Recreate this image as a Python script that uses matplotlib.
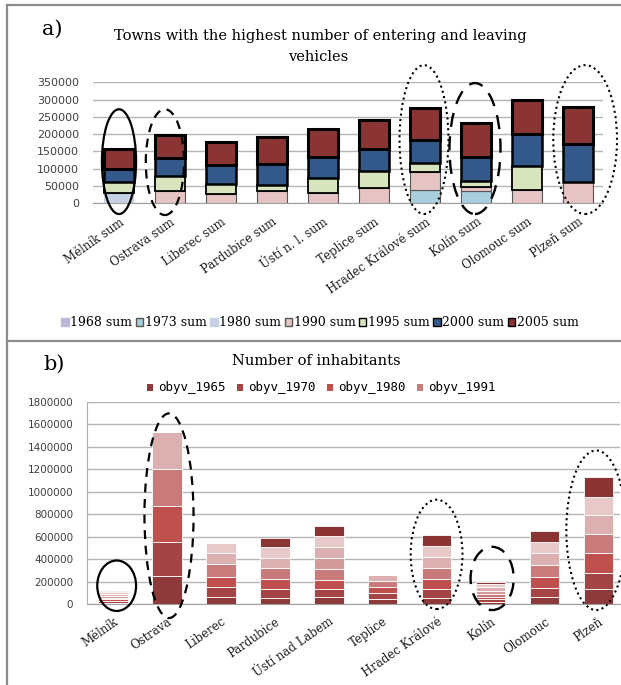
import matplotlib
matplotlib.use("Agg")
import matplotlib.pyplot as plt
from matplotlib.patches import Ellipse, Patch
from matplotlib.lines import Line2D
import numpy as np

# ---------------- data : panel a ----------------
towns_a = ["Mělník sum", "Ostrava sum", "Liberec sum", "Pardubice sum", "Ústí n. l. sum",
           "Teplice sum", "Hradec Králové sum", "Kolín sum", "Olomouc sum", "Plzeň sum"]
series_a = ["1968 sum", "1973 sum", "1980 sum", "1990 sum", "1995 sum", "2000 sum", "2005 sum"]
sum1968 = [0, 0, 0, 0, 0, 0, 0, 0, 0, 0]
sum1973 = [0, 0, 0, 0, 0, 0, 38000, 34000, 0, 0]
sum1980 = [29000, 0, 0, 0, 0, 0, 0, 0, 0, 0]
sum1990 = [0, 34000, 27000, 35000, 29000, 43000, 52000, 12500, 39000, 60000]
sum1995 = [31000, 45000, 28000, 17000, 45000, 49000, 27000, 17000, 67000, 0]
sum2000 = [38000, 52000, 54000, 62000, 60000, 66000, 66000, 70500, 94000, 112000]
sum2005 = [60000, 65000, 68000, 77000, 82000, 83000, 93000, 97000, 98000, 107000]
yticks_a = [0, 50000, 100000, 150000, 200000, 250000, 300000, 350000]

# ---------------- data : panel b ----------------
towns_b = ["Mělník", "Ostrava", "Liberec", "Pardubice", "Ústí nad Labem",
           "Teplice", "Hradec Králové", "Kolín", "Olomouc", "Plzeň"]
series_b = ["obyv_1965", "obyv_1970", "obyv_1980", "obyv_1991",
            "obyv_s5", "obyv_s6", "obyv_s7", "obyv_s8"]
obyv_1965 = [12000, 252000, 60000, 50000, 59000, 48000, 50000, 20000, 59000, 131000]
obyv_1970 = [14000, 303000, 89000, 83000, 74000, 50000, 83000, 22000, 80000, 148000]
obyv_1980 = [15000, 320000, 95000, 89000, 80000, 52000, 89000, 24000, 98000, 172000]
obyv_1991 = [16000, 329000, 110000, 95000, 98000, 52000, 101000, 26000, 110000, 172000]
obyv_s5 = [16000, 0, 0, 0, 101000, 0, 0, 27000, 0, 0]
obyv_s6 = [17000, 323000, 98000, 95000, 98000, 53000, 98000, 28000, 104000, 169000]
obyv_s7 = [17000, 0, 95000, 92000, 95000, 0, 98000, 30000, 104000, 163000]
obyv_s8 = [12000, 0, 0, 86000, 92000, 0, 95000, 22000, 98000, 172000]
yticks_b = list(range(0, 1800001, 200000))

# ---------------- styles ----------------
SERIF = "DejaVu Serif"
SANS = "DejaVu Sans"
MONO = "DejaVu Sans Mono"
colors_a = ["#bcb8d6", "#a9cfdf", "#c6d1e6", "#e6c4c4", "#d8e4bd", "#33598b", "#8a3434"]
edges_a = ["none", "#555555", "none", "#555555", "black", "black", "black"]
lw_a = [0, 0.8, 0, 0.8, 1.3, 1.8, 2.2]
colors_b = ["#8e3a3a", "#a54444", "#c0504d", "#c97a7a", "#d49b9b", "#dcb0b0", "#e8c9c9", "#8b3434"]

W, H = 621, 685
fig = plt.figure(figsize=(W / 100, H / 100), dpi=100)


def fx(px):
    return px / W


def fy(py):
    return 1 - py / H


# frame lines
frame_col = "#8c8c8c"
for (x0, y0, x1, y1) in [(7, 5, 621, 5), (7, 5, 7, 685), (7, 341, 621, 341)]:
    fig.add_artist(Line2D([fx(x0), fx(x1)], [fy(y0), fy(y1)], color=frame_col, lw=1.6,
                          transform=fig.transFigure))


def ellipse(ax, xc, ylo, yhi, w, ls, lw):
    e = Ellipse((xc, (ylo + yhi) / 2), w, yhi - ylo, fill=False, edgecolor="black",
                linestyle=ls, linewidth=lw, clip_on=False, zorder=6)
    ax.add_patch(e)


# ================= panel a =================
axA = fig.add_axes([fx(93), fy(203), fx(603) - fx(93), (203 - 82.4) / H])
xa = np.arange(len(towns_a))
data_a = [sum1968, sum1973, sum1980, sum1990, sum1995, sum2000, sum2005]
bottom = np.zeros(len(towns_a))
for vals, c, ec, lw in zip(data_a, colors_a, edges_a, lw_a):
    v = np.array(vals, dtype=float)
    axA.bar(xa, v, 0.58, bottom=bottom, color=c, edgecolor=ec, linewidth=lw, zorder=3)
    bottom += v
axA.set_xlim(-0.51, 9.49)
axA.set_ylim(0, 350000)
axA.set_yticks(yticks_a)
axA.set_yticklabels([str(t) for t in yticks_a], fontsize=8, family=SANS, color="#404040")
axA.yaxis.grid(True, color="#b5b5b5", lw=1)
axA.set_axisbelow(True)
for s in ["top", "right", "left"]:
    axA.spines[s].set_visible(False)
axA.spines["bottom"].set_color("#a0a0a0")
axA.tick_params(axis="y", length=0, pad=10)
axA.tick_params(axis="x", length=0, pad=9)
axA.set_xticks(xa)
axA.set_xticklabels(towns_a, rotation=35, ha="right", va="top", rotation_mode="anchor",
                    fontsize=8.5, family=SERIF, color="#202020")

ellipse(axA, 0, -32000, 272000, 0.67, "-", 1.6)
ellipse(axA, 0.9, -35000, 272000, 0.75, (0, (4, 3)), 1.6)
ellipse(axA, 5.98, -32000, 400000, 0.96, (0, (1, 1.6)), 1.5)
ellipse(axA, 6.98, -32000, 348000, 1.0, (0, (6, 4)), 1.7)
ellipse(axA, 9.14, -32000, 400000, 1.25, (0, (1, 1.6)), 1.5)

handles_a = [Patch(facecolor=c, edgecolor=(ec if ec != "none" else c), linewidth=1.0)
             for c, ec in zip(colors_a, edges_a)]
fig.legend(handles_a, series_a, loc="center", bbox_to_anchor=(fx(320), fy(322.5)), ncol=7,
           frameon=False, handlelength=0.6, handleheight=0.6, handletextpad=0.15,
           columnspacing=0.25, prop={"family": SERIF, "size": 9})

fig.text(fx(52), fy(29), "a)", fontsize=15, family=SERIF, ha="center", va="center")
fig.text(fx(320), fy(36), "Towns with the highest number of entering and leaving",
         fontsize=10.5, family=SERIF, ha="center", va="center")
fig.text(fx(318), fy(57), "vehicles", fontsize=10.5, family=SERIF, ha="center", va="center")

# ================= panel b =================
axB = fig.add_axes([fx(87), fy(604), fx(620) - fx(87), (604 - 401.7) / H])
xb = np.arange(len(towns_b))
data_b = [obyv_1965, obyv_1970, obyv_1980, obyv_1991, obyv_s5, obyv_s6, obyv_s7, obyv_s8]
bottom = np.zeros(len(towns_b))
for vals, c in zip(data_b, colors_b):
    v = np.array(vals, dtype=float)
    axB.bar(xb, v, 0.55, bottom=bottom, color=c, edgecolor="white", linewidth=0.6, zorder=3)
    bottom += v
axB.set_xlim(-0.48, 9.40)
axB.set_ylim(0, 1800000)
axB.set_yticks(yticks_b)
axB.set_yticklabels([str(t) for t in yticks_b], fontsize=7.5, family=SANS, color="#404040")
axB.yaxis.grid(True, color="#b5b5b5", lw=1)
axB.set_axisbelow(True)
for s in ["top", "right"]:
    axB.spines[s].set_visible(False)
axB.spines["left"].set_color("#b0b0b0")
axB.spines["bottom"].set_color("#a0a0a0")
axB.tick_params(axis="y", length=0, pad=10)
axB.tick_params(axis="x", length=0, pad=8)
axB.set_xticks(xb)
axB.set_xticklabels(towns_b, rotation=35, ha="right", va="top", rotation_mode="anchor",
                    fontsize=8.5, family=SERIF, color="#202020")

ellipse(axB, 0.07, -62000, 387000, 0.72, "-", 1.6)
ellipse(axB, 1.04, -125000, 1696000, 0.91, (0, (4, 3)), 1.6)
ellipse(axB, 6.0, -45000, 928000, 0.96, (0, (1, 1.6)), 1.5)
ellipse(axB, 7.03, -54000, 509000, 0.80, (0, (6, 4)), 1.7)
ellipse(axB, 8.96, -54000, 1366000, 1.11, (0, (1, 1.6)), 1.5)

handles_b = [Patch(facecolor=c, edgecolor="none") for c in colors_b[:4]]
fig.legend(handles_b, series_b[:4], loc="center", bbox_to_anchor=(fx(321), fy(388)), ncol=4,
           frameon=False, handlelength=0.5, handleheight=0.5, handletextpad=0.4,
           columnspacing=0.9, prop={"family": MONO, "size": 9})

fig.text(fx(54), fy(364), "b)", fontsize=15, family=SERIF, ha="center", va="center")
fig.text(fx(316), fy(361), "Number of inhabitants", fontsize=10.5, family=SERIF,
         ha="center", va="center")

fig.savefig("out.png", dpi=100)
